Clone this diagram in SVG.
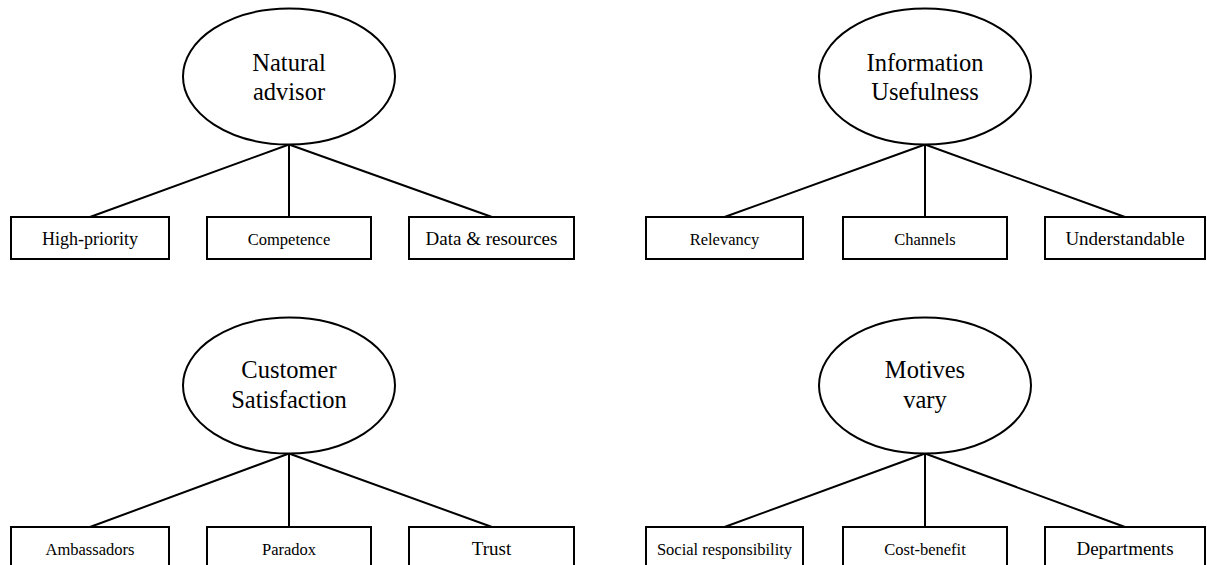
<svg xmlns="http://www.w3.org/2000/svg" width="1207" height="565" viewBox="0 0 1207 565">
<style>
.el{fill:#fff;stroke:#000;stroke-width:2}
.bx{fill:#fff;stroke:#000;stroke-width:2}
.ln{stroke:#000;stroke-width:2;fill:none}
text{font-family:"Liberation Serif","Times New Roman",serif;fill:#000;text-anchor:middle}
.t{font-size:24.5px}
.s{font-size:16.5px}
.l{font-size:19px}
</style>
<rect width="1207" height="565" fill="#fff"/>
<g id="connectors">
<path class="ln" d="M289 144.5L90 217M289 144.5V217M289 144.5L492 217"/>
<path class="ln" d="M925 144.5L724.5 217M925 144.5V217M925 144.5L1125 217"/>
<path class="ln" d="M289 453.5L90 527M289 453.5V527M289 453.5L492 527"/>
<path class="ln" d="M925 453.5L724.5 527M925 453.5V527M925 453.5L1125 527"/>
</g>
<g id="natural-advisor"><ellipse class="el" cx="289" cy="76.5" rx="106" ry="68"/><text class="t" x="289" y="71">Natural</text><text class="t" x="289" y="100">advisor</text></g>
<g id="high-priority"><rect class="bx" x="11" y="217" width="158" height="42"/><text class="s" x="90" y="245" style="font-size:18px">High-priority</text></g>
<g id="competence"><rect class="bx" x="207" y="217" width="164" height="42"/><text class="s" x="289" y="245">Competence</text></g>
<g id="data-resources"><rect class="bx" x="409" y="217" width="165" height="42"/><text class="l" x="491.5" y="245">Data &amp; resources</text></g>
<g id="information-usefulness"><ellipse class="el" cx="925" cy="76.5" rx="106" ry="68"/><text class="t" x="925" y="71">Information</text><text class="t" x="925" y="100">Usefulness</text></g>
<g id="relevancy"><rect class="bx" x="646" y="217" width="157" height="42"/><text class="s" x="724.5" y="245">Relevancy</text></g>
<g id="channels"><rect class="bx" x="843" y="217" width="164" height="42"/><text class="s" x="925" y="245">Channels</text></g>
<g id="understandable"><rect class="bx" x="1045" y="217" width="160" height="42"/><text class="l" x="1125" y="245">Understandable</text></g>
<g id="customer-satisfaction"><ellipse class="el" cx="289" cy="385.5" rx="106" ry="68"/><text class="t" x="289" y="378">Customer</text><text class="t" x="289" y="408">Satisfaction</text></g>
<g id="ambassadors"><rect class="bx" x="11" y="527" width="158" height="42"/><text class="s" x="90" y="555">Ambassadors</text></g>
<g id="paradox"><rect class="bx" x="207" y="527" width="164" height="42"/><text class="s" x="289" y="555">Paradox</text></g>
<g id="trust"><rect class="bx" x="409" y="527" width="165" height="42"/><text class="l" x="491.5" y="555">Trust</text></g>
<g id="motives-vary"><ellipse class="el" cx="925" cy="385.5" rx="106" ry="68"/><text class="t" x="925" y="378">Motives</text><text class="t" x="925" y="408">vary</text></g>
<g id="social-responsibility"><rect class="bx" x="646" y="527" width="157" height="42"/><text class="s" x="724.5" y="555">Social responsibility</text></g>
<g id="cost-benefit"><rect class="bx" x="843" y="527" width="164" height="42"/><text class="s" x="925" y="555">Cost-benefit</text></g>
<g id="departments"><rect class="bx" x="1045" y="527" width="160" height="42"/><text class="l" x="1125" y="555">Departments</text></g>
</svg>
